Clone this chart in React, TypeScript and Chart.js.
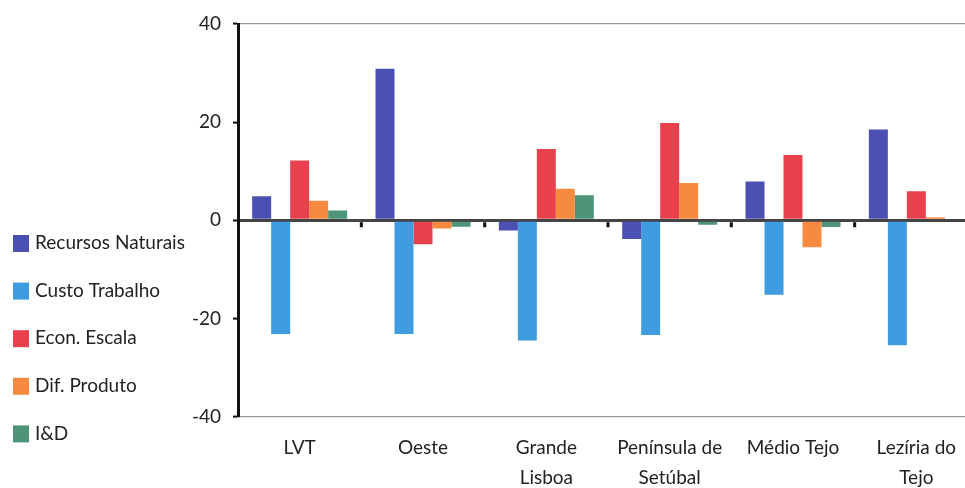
import React, { useEffect, useRef } from "react";
import { Chart, registerables } from "chart.js";

Chart.register(...registerables);

const categories: (string | string[])[] = [
  "LVT",
  "Oeste",
  ["Grande", "Lisboa"],
  ["Península de", "Setúbal"],
  "Médio Tejo",
  ["Lezíria do", "Tejo"],
];

const seriesNames = ["Recursos Naturais", "Custo Trabalho", "Econ. Escala", "Dif. Produto", "I&D"];
const seriesColors = ["#4b50b2", "#3f9ce0", "#e8414e", "#f68a3f", "#4e9476"];

const recursosNaturais = [4.9, 30.9, -2.1, -3.8, 7.9, 18.5];
const custoTrabalho = [-23.2, -23.2, -24.5, -23.4, -15.2, -25.5];
const econEscala = [12.2, -4.9, 14.5, 19.8, 13.3, 5.9];
const difProduto = [4.0, -1.7, 6.4, 7.6, -5.5, 0.6];
const iED = [2.0, -1.3, 5.1, -0.9, -1.4, 0.0];

const yTicks = [-40, -20, 0, 20, 40];

const FONT = "Lato, 'Open Sans', sans-serif";
const TEXT = "#222222";

const extras = {
  id: "extras",
  afterDraw(chart: any) {
    const ctx = chart.ctx;
    const x = chart.scales.x;
    const y = chart.scales.y;
    const zeroY = y.getPixelForValue(0);
    ctx.save();
    // category boundary ticks on zero line
    ctx.fillStyle = "#111";
    const n = categories.length;
    const step = x.getPixelForValue(1) - x.getPixelForValue(0);
    for (let i = 1; i <= n; i++) {
      const b = x.getPixelForValue(i - 1) + step / 2;
      ctx.fillRect(b - 1.5, zeroY + 2, 3, 5);
    }
    // legend
    ctx.font = "19px " + FONT;
    ctx.textBaseline = "middle";
    chart.data.datasets.forEach((ds: any, i: number) => {
      const cy = 243 + i * 47.6;
      ctx.fillStyle = ds.backgroundColor;
      ctx.fillRect(13, cy - 8, 16, 17);
      ctx.fillStyle = TEXT;
      ctx.fillText(ds.label, 35, cy);
    });
    ctx.restore();
  },
};

export default function App() {
  const ref = useRef<HTMLCanvasElement | null>(null);
  useEffect(() => {
    if (!ref.current) return;
    const data = [recursosNaturais, custoTrabalho, econEscala, difProduto, iED];
    const chart = new Chart(ref.current, {
      type: "bar",
      data: {
        labels: categories,
        datasets: data.map((d, i) => ({
          label: seriesNames[i],
          data: d,
          backgroundColor: seriesColors[i],
          borderWidth: 0,
          categoryPercentage: 0.77,
          barPercentage: 1,
        })),
      },
      options: {
        animation: false,
        responsive: true,
        maintainAspectRatio: false,
        layout: { padding: { left: 180, top: 24, right: 2, bottom: 0 } },
        plugins: { legend: { display: false }, tooltip: { enabled: false } },
        scales: {
          x: {
            grid: { display: false, drawTicks: false },
            border: { display: false },
            ticks: {
              color: TEXT,
              font: { family: FONT, size: 19, lineHeight: 1.58 },
              padding: 16,
              maxRotation: 0,
              autoSkip: false,
            },
            afterFit: (s: any) => {
              s.height = 71.5;
            },
          },
          y: {
            min: -40,
            max: 40,
            afterBuildTicks: (s: any) => {
              s.ticks = yTicks.map((v) => ({ value: v }));
            },
            afterFit: (s: any) => {
              s.width = 58;
            },
            grid: {
              color: (c: any) =>
                c.tick && c.tick.value === 0
                  ? "#444444"
                  : c.tick && Math.abs(c.tick.value) === 40
                  ? "#9a9a9a"
                  : "rgba(0,0,0,0)",
              lineWidth: (c: any) => (c.tick && c.tick.value === 0 ? 3 : 1.2),
              tickColor: "#111",
              tickLength: 5,
              tickWidth: 2,
            },
            border: { display: true, color: "#111", width: 3 },
            ticks: {
              color: TEXT,
              font: { family: FONT, size: 19 },
              padding: 12,
            },
          },
        },
      },
      plugins: [extras],
    });
    return () => chart.destroy();
  }, []);
  return (
    <div style={{ position: "fixed", left: 0, top: 0, width: 965, height: 488, overflow: "hidden", background: "#fff" }}>
      <div style={{ width: 980, height: 488, position: "relative" }}>
        <canvas ref={ref} />
      </div>
    </div>
  );
}
